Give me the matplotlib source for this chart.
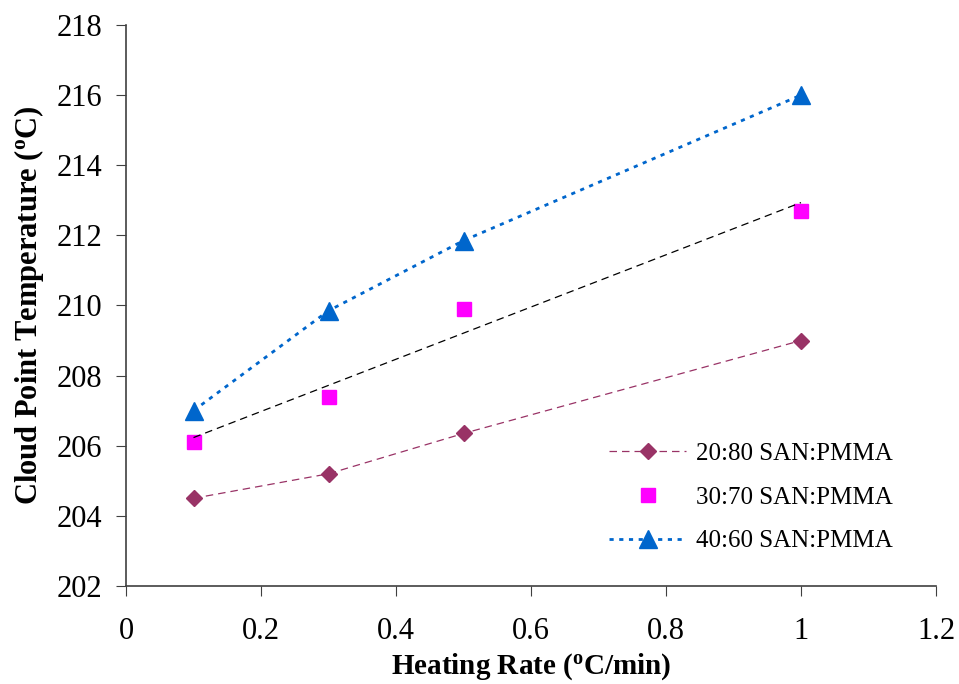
import numpy as np
import matplotlib
matplotlib.use("Agg")
import matplotlib.pyplot as plt

plt.rcParams['font.family'] = 'Liberation Serif'
plt.rcParams['mathtext.fontset'] = 'custom'
plt.rcParams['mathtext.rm'] = 'Liberation Serif'
plt.rcParams['mathtext.bf'] = 'Liberation Serif:bold'

# heating rate (oC/min)
rate = [0.1, 0.3, 0.5, 1.0]
# cloud point temperatures (oC)
t_2080 = [204.5, 205.2, 206.35, 209.0]
t_3070 = [206.1, 207.4, 209.9, 212.7]
t_4060 = [207.0, 209.85, 211.85, 216.0]

fig = plt.figure(figsize=(9.59, 6.84), dpi=100)
ax = fig.add_axes([0.1314, 0.1433, 0.8446, 0.8202])

ax.plot(rate, t_2080, linestyle=(0, (6, 4)), linewidth=0.9, color='#993366',
        marker='D', markersize=8, label='20:80 SAN:PMMA')
ax.plot(rate, t_3070, linestyle='none', color='#FF00FF',
        marker='s', markersize=10, label='30:70 SAN:PMMA')
# linear trend for 30:70
p = np.polyfit(rate, t_3070, 1)
xf = np.array([rate[0], rate[-1]])
ax.plot(xf, np.polyval(p, xf), linestyle=(0, (6, 4)), linewidth=0.9, color='black')
ax.plot(rate, t_4060, linestyle=(0, (1.5, 2)), linewidth=2, color='#0066CC',
        marker='^', markersize=13, label='40:60 SAN:PMMA')

ax.set_xlim(0, 1.2)
ax.set_ylim(202, 218)
ax.set_xticks(np.arange(0, 1.21, 0.2))
ax.set_xticklabels(['0', '0.2', '0.4', '0.6', '0.8', '1', '1.2'])
ax.set_yticks(np.arange(202, 219, 2))
ax.spines['top'].set_visible(False)
ax.spines['right'].set_visible(False)
ax.tick_params(labelsize=22, length=7, color='#404040', pad=10)
ax.tick_params(axis='x', pad=15)
for s in ['left', 'bottom']:
    ax.spines[s].set_color('#404040')
    ax.spines[s].set_linewidth(1.2)

ax.set_xlabel(r'Heating Rate ($\mathbf{^{o}}$C/min)', fontsize=21, fontweight='bold', labelpad=4)
ax.set_ylabel(r'Cloud Point Temperature ($\mathbf{^{o}}$C)', fontsize=22, fontweight='bold', labelpad=8)

ax.legend(loc='lower right', bbox_to_anchor=(0.975, 0.02), frameon=False, fontsize=18,
          handlelength=3.1, handletextpad=0.4, labelspacing=0.85)

fig.savefig('out.png', dpi=100)
